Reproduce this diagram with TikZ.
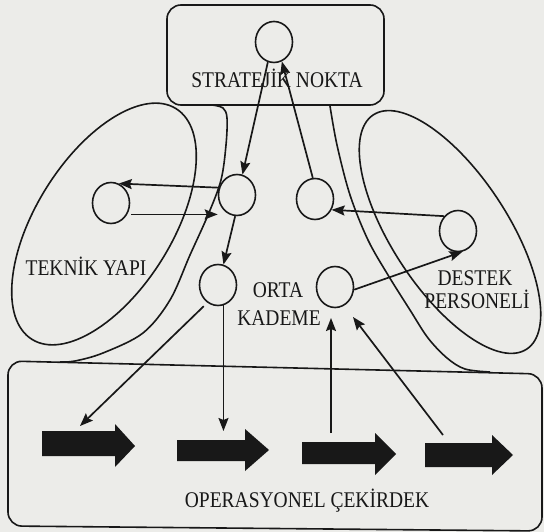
\documentclass[tikz,border=0pt]{standalone}
\usepackage{fontspec}
\setmainfont{Liberation Serif}
\usepackage{graphicx}
\usetikzlibrary{shapes.geometric,arrows.meta,calc}
\definecolor{paper}{RGB}{236,236,233}
\definecolor{ink}{RGB}{24,24,24}
\newcommand{\vlbl}[1]{\scalebox{1}[1.15]{#1}}
\begin{document}
\begin{tikzpicture}[x=1pt,y=-1pt,
  outline/.style={draw=ink, line width=1.6pt},
  circ/.style={ellipse, draw=ink, line width=1.6pt, minimum width=37pt, minimum height=41pt, inner sep=0pt},
  arr/.style={draw=ink, line width=1.7pt, -{Stealth[length=13pt,width=10pt,inset=2pt]}},
  blk/.style={fill=ink},
  lab/.style={font=\fontsize{19.5}{22}\selectfont, text=ink, inner sep=0pt, anchor=base}]
\fill[paper] (0,0) rectangle (544,532);
\useasboundingbox (0,0) rectangle (544,532);

% strategic apex box
\draw[outline, rounded corners=14pt] (167,5) rectangle (384,105);
% technostructure and support staff ellipses
\draw[outline, rotate around={58:(104,224)}] (104,224) ellipse [x radius=136, y radius=68];
\draw[outline, rotate around={-56.8:(450,232)}] (450,232) ellipse [x radius=140, y radius=58];
% middle line
\draw[outline] plot[smooth, tension=0.55] coordinates {(212,105) (223,108) (227,118) (226,145) (221,180) (208,215) (190,255) (170,300) (143,333) (103,353) (75,361) (60,362)};
\draw[outline] plot[smooth, tension=0.55] coordinates {(330,106) (337,145) (350,195) (368,240) (388,275) (410,310) (428,338) (447,358) (465,369) (490,372)};
% operating core box
\draw[outline, rounded corners=14pt] (8,440) -- (8,361) -- (542,374) -- (542,531) -- (8,526) -- cycle;

% block arrows
\fill[blk] (42,431) -- (115,431) -- (115,424) -- (135,446) -- (115,467) -- (115,456) -- (42,456) -- cycle;
\fill[blk] (177,440) -- (245,440) -- (245,429) -- (269,450) -- (245,471) -- (245,461) -- (177,461) -- cycle;
\fill[blk] (302,442) -- (375,442) -- (375,433) -- (396,454) -- (375,475) -- (375,464) -- (302,464) -- cycle;
\fill[blk] (425,443) -- (492,443) -- (492,435) -- (513,455) -- (492,475) -- (492,467) -- (425,467) -- cycle;

% labels
\node[lab] (tstr) at (277,88) {\vlbl{STRATEJİK NOKTA}};
\node[lab] (ttek) at (86,275) {\vlbl{TEKNİK YAPI}};
\node[lab] (torta) at (278,297) {\vlbl{ORTA}};
\node[lab] (tkad) at (279,325) {\vlbl{KADEME}};
\node[lab] (tdes) at (475,285) {\vlbl{DESTEK}};
\node[lab] (tper) at (477,308) {\vlbl{PERSONELİ}};
\node[lab] (tope) at (307,507) {\vlbl{OPERASYONEL ÇEKİRDEK}};

% circles
\node[circ] (apex) at (274,42) {};
\node[circ] (ty) at (111,203) {};
\node[circ] (mlu) at (237,195) {};
\node[circ] (mru) at (315,199) {};
\node[circ] (sup) at (458,231) {};
\node[circ] (mld) at (218,285) {};
\node[circ] (mrd) at (335,287) {};

% connectors
\draw[arr] (apex.-107) -- (mlu.75);
\draw[arr] (mru.96) -- (apex.-68);
\draw[arr] (mlu.158) -- (ty.68);
\draw[arr, shorten <=4pt] (ty.-35) -- (ty.-35 -| mlu.west);
\draw[arr] (mlu.-95) -- (mld.75);
\draw[arr] (sup.133) -- (mru.-33);
\draw[arr] (mrd.-8) -- (sup.-78);
\coordinate (pA) at (80,426);
\coordinate (pB) at (224,431);
\coordinate (pC) at (331,433);
\coordinate (qC) at (331,318);
\coordinate (pD) at (443,435);
\coordinate (qD) at (353,317);
\draw[arr, shorten <=5pt] (mld.-121) -- (pA);
\draw[arr] (mld.-75) -- (mld.-75 |- pB);
\draw[arr] (pC) -- (qC);
\draw[arr] (pD) -- (qD);
\end{tikzpicture}
\end{document}
